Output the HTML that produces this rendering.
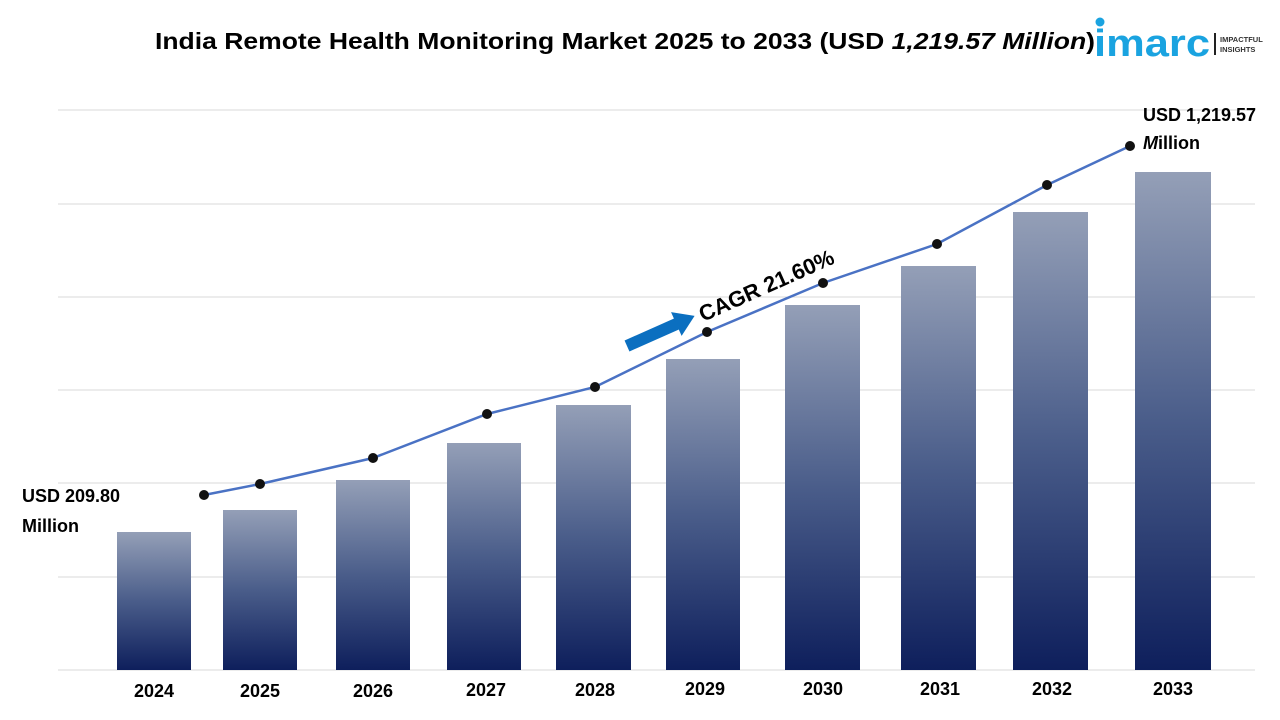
<!DOCTYPE html>
<html><head><meta charset="utf-8"><style>
html,body{margin:0;padding:0;background:#fff;}
svg{display:block;font-family:"Liberation Sans",Arial,sans-serif;}
</style></head><body>
<svg width="1280" height="720" viewBox="0 0 1280 720" xmlns="http://www.w3.org/2000/svg">
<defs>
<linearGradient id="g" x1="0" y1="0" x2="0" y2="1">
<stop offset="0" stop-color="#949fb7"/>
<stop offset="0.5" stop-color="#4a5d8a"/>
<stop offset="1" stop-color="#0e1f5c"/>
</linearGradient>
</defs>
<text x="155" y="49" font-size="23" font-weight="bold" fill="#000" textLength="940" lengthAdjust="spacingAndGlyphs">India Remote Health Monitoring Market 2025 to 2033 (USD <tspan font-style="italic">1,219.57 Million</tspan>)</text>
<!-- logo -->
<circle cx="1100" cy="22" r="4.5" fill="#1aa3e0"/>
<text x="1094" y="56" font-size="38" font-weight="bold" fill="#1aa3e0" textLength="116" lengthAdjust="spacingAndGlyphs">imarc</text>
<rect x="1214" y="33" width="2" height="22" fill="#222"/>
<text x="1220" y="42" font-size="7.5" font-weight="bold" fill="#333">IMPACTFUL</text>
<text x="1220" y="52" font-size="7.5" font-weight="bold" fill="#333">INSIGHTS</text>
<!-- grid -->
<g stroke="#d9d9d9" stroke-width="1">
<line x1="58" y1="110" x2="1255" y2="110"/>
<line x1="58" y1="204" x2="1255" y2="204"/>
<line x1="58" y1="297" x2="1255" y2="297"/>
<line x1="58" y1="390" x2="1255" y2="390"/>
<line x1="58" y1="483" x2="1255" y2="483"/>
<line x1="58" y1="577" x2="1255" y2="577"/>
<line x1="58" y1="670" x2="1255" y2="670"/>
</g>
<g fill="url(#g)">
<rect x="117" y="532" width="74" height="138"/>
<rect x="223" y="510" width="74" height="160"/>
<rect x="336" y="480" width="74" height="190"/>
<rect x="447" y="443" width="74" height="227"/>
<rect x="556" y="405" width="75" height="265"/>
<rect x="666" y="359" width="74" height="311"/>
<rect x="785" y="305" width="75" height="365"/>
<rect x="901" y="266" width="75" height="404"/>
<rect x="1013" y="212" width="75" height="458"/>
<rect x="1135" y="172" width="76" height="498"/>
</g>
<polyline fill="none" stroke="#4a72c4" stroke-width="2.5" points="204,495 260,484 373,458 487,414 595,387 707,332 823,283 937,244 1047,185 1130,146"/>
<g fill="#111">
<circle cx="204" cy="495" r="5"/><circle cx="260" cy="484" r="5"/><circle cx="373" cy="458" r="5"/>
<circle cx="487" cy="414" r="5"/><circle cx="595" cy="387" r="5"/><circle cx="707" cy="332" r="5"/>
<circle cx="823" cy="283" r="5"/><circle cx="937" cy="244" r="5"/><circle cx="1047" cy="185" r="5"/>
<circle cx="1130" cy="146" r="5"/>
</g>
<!-- arrow -->
<g transform="translate(627,346) rotate(-24)">
<rect x="0" y="-6" width="56" height="12" fill="#0b6fc0"/>
<polygon points="54,-13 74,0 54,13" fill="#0b6fc0"/>
</g>
<text transform="translate(703,322) rotate(-24)" font-size="22" font-weight="bold" fill="#000">CAGR 21.60%</text>
<g font-size="18" font-weight="bold" fill="#000">
<text x="22" y="502">USD 209.80</text>
<text x="22" y="532">Million</text>
<text x="1143" y="121">USD 1,219.57</text>
<text x="1143" y="149"><tspan font-style="italic">M</tspan>illion</text>
</g>
<g font-size="18" font-weight="bold" fill="#000" text-anchor="middle">
<text x="154" y="697">2024</text>
<text x="260" y="697">2025</text>
<text x="373" y="697">2026</text>
<text x="486" y="696">2027</text>
<text x="595" y="696">2028</text>
<text x="705" y="695">2029</text>
<text x="823" y="695">2030</text>
<text x="940" y="695">2031</text>
<text x="1052" y="695">2032</text>
<text x="1173" y="695">2033</text>
</g>
</svg>
</body></html>
